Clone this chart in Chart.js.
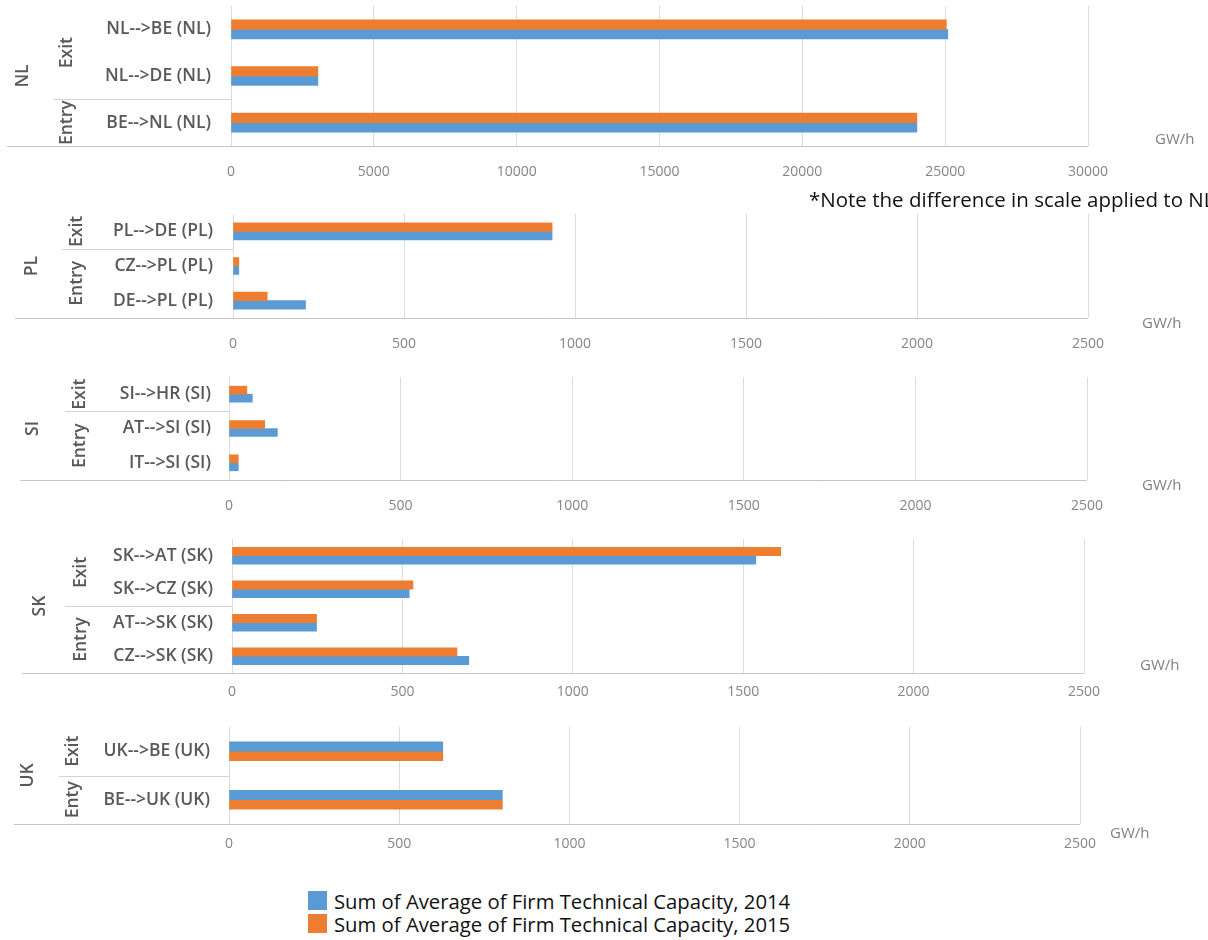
<!DOCTYPE html>
<html>
<head>
<meta charset="utf-8">
<title>Firm Technical Capacity by interconnection point</title>
<script src="https://cdn.jsdelivr.net/npm/chart.js@4.4.0/dist/chart.umd.min.js"></script>
<style>
  body { margin: 0; background: #fff; }
  #page { position: relative; width: 1208px; height: 940px; overflow: hidden; font-family: "Open Sans", sans-serif; }
  #page canvas { position: absolute; left: 0; }
  .unit { position: absolute; color: #7f7f7f; font-size: 15px; white-space: nowrap; }
  .note { position: absolute; left: 809px; top: 185px; font-size: 20.5px; color: #111; white-space: nowrap; }
  .legend { position: absolute; left: 308px; top: 889px; font-size: 20.3px; color: #111; }
  .legend div { display: flex; align-items: center; height: 23px; }
  .legend .sw { width: 19px; height: 19px; margin-right: 7px; }
</style>
</head>
<body>
<div id="page">
  <canvas id="c-nl" width="1208" height="190" style="top:0px"></canvas>
  <canvas id="c-pl" width="1208" height="160" style="top:200px"></canvas>
  <canvas id="c-si" width="1208" height="150" style="top:365px"></canvas>
  <canvas id="c-sk" width="1208" height="180" style="top:525px"></canvas>
  <canvas id="c-uk" width="1208" height="150" style="top:712px"></canvas>

  <div class="unit" style="left:1155px;top:128px">GW/h</div>
  <div class="note">*Note the difference in scale applied to NL</div>
  <div class="unit" style="left:1142px;top:312px">GW/h</div>
  <div class="unit" style="left:1142px;top:474px">GW/h</div>
  <div class="unit" style="left:1140px;top:654px">GW/h</div>
  <div class="unit" style="left:1110px;top:822px">GW/h</div>

  <div class="legend">
    <div><span class="sw" style="background:#5b9bd5"></span>Sum of Average of Firm Technical Capacity, 2014</div>
    <div><span class="sw" style="background:#ed7d31"></span>Sum of Average of Firm Technical Capacity, 2015</div>
  </div>
</div>

<script>
// series colours (Office palette)
const BLUE = '#5b9bd5';
const ORANGE = '#ed7d31';

const label2014 = 'Sum of Average of Firm Technical Capacity, 2014';
const label2015 = 'Sum of Average of Firm Technical Capacity, 2015';

// NL uses its own scale
const nlTicks = [0, 5000, 10000, 15000, 20000, 25000, 30000];
const capTicks = [0, 500, 1000, 1500, 2000, 2500];

const nlRoutes = ['NL-->BE (NL)', 'NL-->DE (NL)', 'BE-->NL (NL)'];
const nlGroups = [['Exit', 2], ['Entry', 1]];
const nl2014 = [25090, 3040, 24010];
const nl2015 = [25040, 3040, 24010];

const plRoutes = ['PL-->DE (PL)', 'CZ-->PL (PL)', 'DE-->PL (PL)'];
const plGroups = [['Exit', 1], ['Entry', 2]];
const pl2014 = [933, 17, 212];
const pl2015 = [933, 17, 100];

const siRoutes = ['SI-->HR (SI)', 'AT-->SI (SI)', 'IT-->SI (SI)'];
const siGroups = [['Exit', 1], ['Entry', 2]];
const si2014 = [68, 141, 27];
const si2015 = [52, 104, 27];

const skRoutes = ['SK-->AT (SK)', 'SK-->CZ (SK)', 'AT-->SK (SK)', 'CZ-->SK (SK)'];
const skGroups = [['Exit', 2], ['Entry', 2]];
const sk2014 = [1537, 520, 248, 695];
const sk2015 = [1610, 531, 248, 660];

const ukRoutes = ['UK-->BE (UK)', 'BE-->UK (UK)'];
const ukGroups = [['Exit', 1], ['Enty', 1]];
const uk2014 = [628, 803];
const uk2015 = [628, 803];

// where each panel sits on the page (page pixels)
const panels = [
  { canvas: 'c-nl', top: 0,   country: 'NL', routes: nlRoutes, groups: nlGroups, v2014: nl2014, v2015: nl2015, ticks: nlTicks,
    orangeFirst: true, left: 231, right: 1088, areaTop: 6, areaBottom: 146, lineLeft: 7, sepLeft: 53,
    countryX: 23, groupX: 67, labelRight: 211, tickPad: 18, bar: 9.5 },
  { canvas: 'c-pl', top: 200, country: 'PL', routes: plRoutes, groups: plGroups, v2014: pl2014, v2015: pl2015, ticks: capTicks,
    orangeFirst: true, left: 233, right: 1088, areaTop: 214, areaBottom: 318, lineLeft: 15, sepLeft: 62,
    countryX: 32, groupX: 77, labelRight: 213, tickPad: 18, bar: 8.5 },
  { canvas: 'c-si', top: 365, country: 'SI', routes: siRoutes, groups: siGroups, v2014: si2014, v2015: si2015, ticks: capTicks,
    orangeFirst: true, left: 229, right: 1087, areaTop: 377, areaBottom: 480, lineLeft: 20, sepLeft: 65,
    countryX: 33, groupX: 80, labelRight: 211, tickPad: 18, bar: 8 },
  { canvas: 'c-sk', top: 525, country: 'SK', routes: skRoutes, groups: skGroups, v2014: sk2014, v2015: sk2015, ticks: capTicks,
    orangeFirst: true, left: 232, right: 1084, areaTop: 539, areaBottom: 673, lineLeft: 22, sepLeft: 65,
    countryX: 40, groupX: 81, labelRight: 213, tickPad: 11, bar: 8.5 },
  { canvas: 'c-uk', top: 712, country: 'UK', routes: ukRoutes, groups: ukGroups, v2014: uk2014, v2015: uk2015, ticks: capTicks,
    orangeFirst: false, left: 229, right: 1080, areaTop: 727, areaBottom: 824, lineLeft: 14, sepLeft: 59,
    countryX: 28, groupX: 73, labelRight: 210, tickPad: 12, bar: 9.5 },
];

const LABEL_FONT = '600 17.5px "Open Sans", sans-serif';
const LABEL_COLOR = '#595959';

// country / Exit-Entry columns, separators and the long category axis line
const groupLabels = {
  id: 'groupLabels',
  afterDraw(chart, args, opts) {
    const p = opts.panel;
    if (!p) return;
    const { ctx, chartArea } = chart;
    const y = chart.scales.y;
    const n = p.routes.length;
    const edge = i => {
      if (i <= 0) return chartArea.top;
      if (i >= n) return chartArea.bottom;
      return (y.getPixelForValue(i - 1) + y.getPixelForValue(i)) / 2;
    };

    ctx.save();
    ctx.strokeStyle = '#c6c6c6';
    ctx.lineWidth = 1;
    ctx.beginPath();
    ctx.moveTo(p.lineLeft, Math.round(chartArea.bottom) + 0.5);
    ctx.lineTo(chartArea.right, Math.round(chartArea.bottom) + 0.5);
    ctx.stroke();

    ctx.fillStyle = LABEL_COLOR;
    ctx.font = LABEL_FONT;
    ctx.textAlign = 'center';
    ctx.textBaseline = 'middle';

    const rotated = (text, x, cy) => {
      ctx.save();
      ctx.translate(x, cy);
      ctx.rotate(-Math.PI / 2);
      ctx.fillText(text, 0, 0);
      ctx.restore();
    };

    let start = 0;
    p.groups.forEach(([name, count], gi) => {
      const top = edge(start);
      const bottom = edge(start + count);
      if (gi > 0) {
        ctx.strokeStyle = '#d4d4d4';
        ctx.beginPath();
        ctx.moveTo(p.sepLeft, Math.round(top) + 0.5);
        ctx.lineTo(chartArea.left, Math.round(top) + 0.5);
        ctx.stroke();
      }
      rotated(name, p.groupX, (top + bottom) / 2);
      start += count;
    });

    rotated(p.country, p.countryX, (chartArea.top + chartArea.bottom) / 2);
    ctx.restore();
  }
};

function buildPanel(p) {
  const ds2014 = { label: label2014, data: p.v2014, backgroundColor: BLUE };
  const ds2015 = { label: label2015, data: p.v2015, backgroundColor: ORANGE };
  const datasets = p.orangeFirst ? [ds2015, ds2014] : [ds2014, ds2015];
  const el = document.getElementById(p.canvas);
  const height = el.height;
  const axisHeight = p.top + height - p.areaBottom;

  return new Chart(el, {
    type: 'bar',
    data: { labels: p.routes, datasets },
    options: {
      indexAxis: 'y',
      responsive: false,
      animation: false,
      devicePixelRatio: 1,
      barThickness: p.bar,
      layout: { padding: { top: p.areaTop - p.top, right: 1208 - p.right, left: 0, bottom: 0 } },
      plugins: {
        legend: { display: false },
        tooltip: { enabled: false },
        groupLabels: { panel: p }
      },
      scales: {
        x: {
          min: p.ticks[0],
          max: p.ticks[p.ticks.length - 1],
          ticks: {
            stepSize: p.ticks[1] - p.ticks[0],
            color: '#858585',
            font: { family: '"Open Sans", sans-serif', size: 14 },
            padding: p.tickPad,
            maxRotation: 0,
            callback: v => String(v)
          },
          grid: { color: '#dcdcdc', drawTicks: false },
          border: { display: false },
          afterFit(scale) { scale.height = axisHeight; }
        },
        y: {
          ticks: {
            color: LABEL_COLOR,
            font: { family: '"Open Sans", sans-serif', size: 17.5, weight: '600' },
            padding: p.left - p.labelRight
          },
          grid: { display: false, drawTicks: false },
          border: { display: false },
          afterFit(scale) {
            scale.width = p.left;
            // keep label padding from pushing the plot area down
            scale.paddingTop = 0;
            scale.paddingBottom = 0;
          }
        }
      }
    },
    plugins: [groupLabels]
  });
}

panels.forEach(buildPanel);
</script>
</body>
</html>
